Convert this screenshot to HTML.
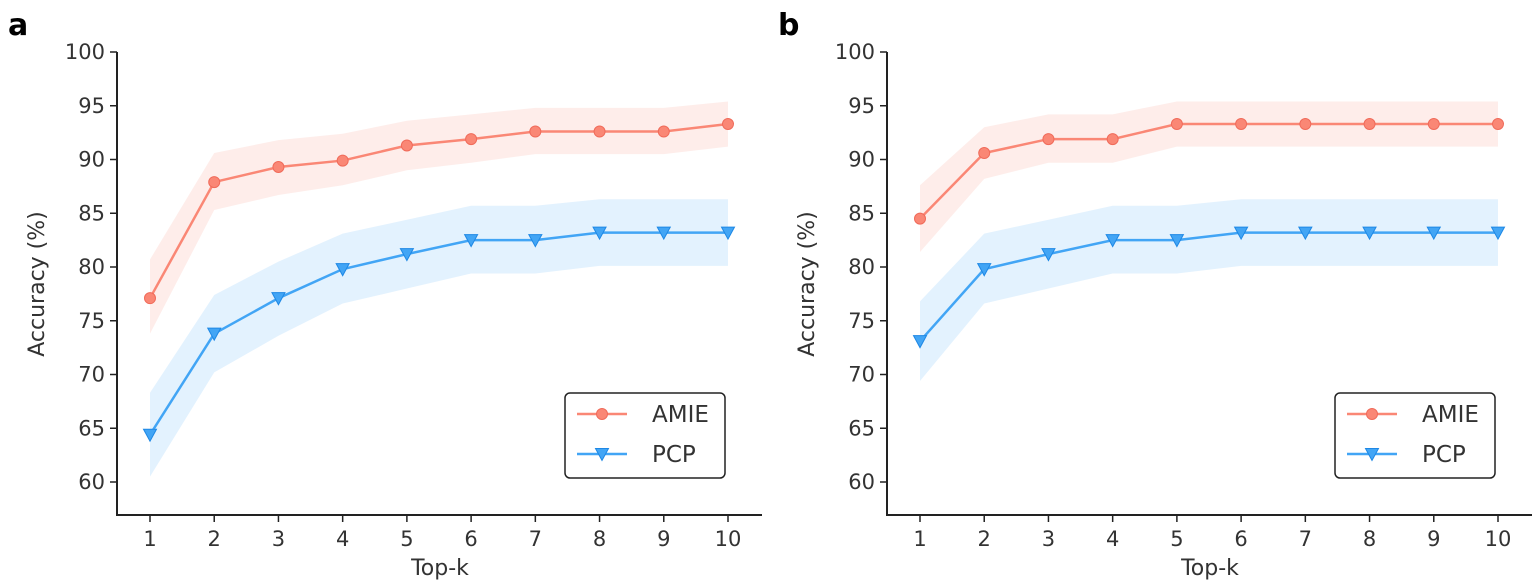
<!DOCTYPE html>
<html><head><meta charset="utf-8"><style>
html,body{margin:0;padding:0;background:#fff;width:1540px;height:581px;overflow:hidden}
svg text{font-family:"DejaVu Sans","Liberation Sans",sans-serif;fill:#333}
</style></head><body>
<svg id="chart" width="1540" height="581" xmlns="http://www.w3.org/2000/svg"></svg>
<script>
const categories=[1,2,3,4,5,6,7,8,9,10];
const yTicks=[60,65,70,75,80,85,90,95,100];
const amieA=[77.1,87.9,89.3,89.9,91.3,91.9,92.6,92.6,92.6,93.3];
const amieAHi=[80.7,90.6,91.8,92.4,93.6,94.2,94.8,94.8,94.8,95.4];
const amieALo=[73.8,85.3,86.7,87.6,89.0,89.7,90.5,90.5,90.5,91.2];
const pcpA=[64.4,73.8,77.1,79.8,81.2,82.5,82.5,83.2,83.2,83.2];
const pcpAHi=[68.3,77.4,80.5,83.1,84.4,85.7,85.7,86.3,86.3,86.3];
const pcpALo=[60.5,70.2,73.6,76.6,78.0,79.4,79.4,80.1,80.1,80.1];
const amieB=[84.5,90.6,91.9,91.9,93.3,93.3,93.3,93.3,93.3,93.3];
const amieBHi=[87.6,93.0,94.2,94.2,95.4,95.4,95.4,95.4,95.4,95.4];
const amieBLo=[81.4,88.2,89.7,89.7,91.2,91.2,91.2,91.2,91.2,91.2];
const pcpB=[73.1,79.8,81.2,82.5,82.5,83.2,83.2,83.2,83.2,83.2];
const pcpBHi=[76.8,83.1,84.4,85.7,85.7,86.3,86.3,86.3,86.3,86.3];
const pcpBLo=[69.4,76.6,78.0,79.4,79.4,80.1,80.1,80.1,80.1,80.1];

const svg=document.getElementById('chart');
const NS='http://www.w3.org/2000/svg';
function mk(tag,attrs,parent){const e=document.createElementNS(NS,tag);for(const k in attrs)e.setAttribute(k,attrs[k]);(parent||svg).appendChild(e);return e;}
const AC='#fa8775',PC='#42a5f5';
function panel(id,ox,amie,aHi,aLo,pcp,pHi,pLo){
  const g=mk('g',{});
  
  
  const x=v=>ox+150+(v-1)*(578/9);
  const y=v=>482-(v-60)*10.75;
  const L=ox+117,B=515;
  const lab=mk('text',{x:ox+8,y:35,'font-size':30,'font-weight':'bold','font-family':'Liberation Sans'},g);lab.textContent=id;lab.style.fill='#000';
  
  
  function band(hi,lo,c,n){let d='';categories.forEach((c2,i)=>d+=(i?'L':'M')+x(c2)+','+y(hi[i]));for(let i=categories.length-1;i>=0;i--)d+='L'+x(categories[i])+','+y(lo[i]);
    const p=mk('path',{d:d+'Z',fill:c,'fill-opacity':0.15,stroke:'none'},g);
    
    }
  band(aHi,aLo,AC,'amie');band(pHi,pLo,PC,'pcp');
  function line(v,c,n,marker){const pts=categories.map((c2,i)=>x(c2)+','+y(v[i])).join(' ');
    const l=mk('polyline',{points:pts,fill:'none',stroke:c,'stroke-width':2.5},g);
    
    
    categories.forEach((c2,i)=>{let m;const cx=x(c2),cy=y(v[i]);
      if(marker==='o')m=mk('circle',{cx:cx,cy:cy,r:5.5,fill:c,stroke:'#f06b5a','stroke-width':1},g);
      else m=mk('path',{d:`M${cx-6.5},${cy-5.5}L${cx+6.5},${cy-5.5}L${cx},${cy+6.5}Z`,fill:c,stroke:'#1e88e5','stroke-width':1},g);
      
      });}
  line(amie,AC,'amie','o');line(pcp,PC,'pcp','v');
  const ax=mk('path',{d:`M${L},52V${B}H${ox+762}`,fill:'none',stroke:'#222','stroke-width':2},g);
  
  
  yTicks.forEach(t=>{mk('line',{x1:L-7,x2:L,y1:y(t),y2:y(t),stroke:'#222','stroke-width':1.5},g);
    const tx=mk('text',{x:L-12,y:y(t)+7,'font-size':21,'text-anchor':'end'},g);tx.textContent=t;
    
    });
  categories.forEach(c2=>{mk('line',{x1:x(c2),x2:x(c2),y1:B,y2:B+7,stroke:'#222','stroke-width':1.5},g);
    const tx=mk('text',{x:x(c2),y:B+31,'font-size':21,'text-anchor':'middle'},g);tx.textContent=c2;
    
    });
  const xt=mk('text',{x:ox+440,y:575,'font-size':22,'text-anchor':'middle'},g);xt.textContent='Top-k';
  
  
  const yt=mk('text',{x:0,y:0,'font-size':22,'text-anchor':'middle',transform:`translate(${ox+44},284) rotate(-90)`},g);yt.textContent='Accuracy (%)';
  
  
  const lg=mk('g',{},g);
  
  
  mk('rect',{x:ox+565,y:393,width:160,height:85,rx:5,fill:'#fff',stroke:'#222','stroke-width':1.5},lg);
  mk('line',{x1:ox+577,x2:ox+627,y1:414,y2:414,stroke:AC,'stroke-width':2.5},lg);
  mk('circle',{cx:ox+602,cy:414,r:5.5,fill:AC,stroke:'#f06b5a'},lg);
  mk('line',{x1:ox+577,x2:ox+627,y1:454,y2:454,stroke:PC,'stroke-width':2.5},lg);
  mk('path',{d:`M${ox+595.5},448.5L${ox+608.5},448.5L${ox+602},460.5Z`,fill:PC,stroke:'#1e88e5'},lg);
  const t1=mk('text',{x:ox+652,y:422,'font-size':23},lg);t1.textContent='AMIE';
  
  
  const t2=mk('text',{x:ox+652,y:462,'font-size':23},lg);t2.textContent='PCP';
  
  
}
panel('a',0,amieA,amieAHi,amieALo,pcpA,pcpAHi,pcpALo);
panel('b',770,amieB,amieBHi,amieBLo,pcpB,pcpBHi,pcpBLo);
</script>
</body></html>
